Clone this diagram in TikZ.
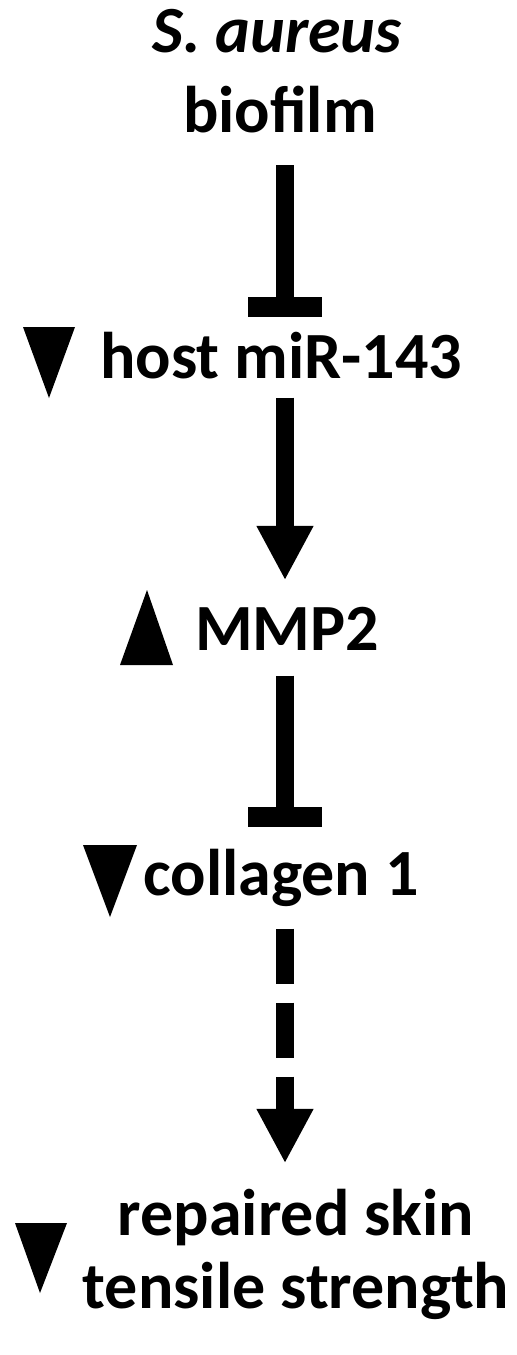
\documentclass[tikz,border=0pt]{standalone}
\usepackage{fontspec}
\setmainfont{Carlito}
\usetikzlibrary{arrows.meta}

\tikzset{every picture/.style={line width=0.75pt}}
\tikzset{
  lbl/.style={font=\fontsize{49.5}{58}\selectfont\bfseries, inner sep=0pt, anchor=base, text height=31pt, text depth=0pt},
  link/.style={line width=13.5pt},
  actv/.style={link, -{Triangle[length=40pt, width=43pt, line width=0pt]}},
  inhb/.style={link, -{Rectangle[length=15pt, width=55pt, line width=0pt]}},
}

\begin{document}
\begin{tikzpicture}[x=0.75pt,y=0.75pt,yscale=-1,xscale=1]
	\useasboundingbox (0,0) rectangle (517,1355);
	\coordinate (axis) at (285,0);

	% Text Node
	\node[lbl] (bioA) at (277,53) {\itshape S. aureus};
	% Text Node
	\node[lbl] (bioB) at (280,133) {biofilm};
	% Text Node
	\node[lbl] (host) at (281,378) {host miR-143};
	% Text Node
	\node[lbl] (mmp) at (287,650) {MMP2};
	% Text Node
	\node[lbl] (col) at (281,895) {collagen 1};
	% Text Node
	\node[lbl] (skinA) at (296,1235) {repaired skin};
	% Text Node
	\node[lbl] (skinB) at (296,1308) {tensile strength};

	%Straight Lines
	\draw[inhb, shorten <=24pt, shorten >=14.25pt] (bioB.south -| axis) -- (host.north -| axis);
	%Straight Lines
	\draw[actv, shorten <=14.25pt, shorten >=21.75pt] (host.south -| axis) -- (mmp.north -| axis);
	%Straight Lines
	\draw[inhb, shorten <=18.75pt, shorten >=19.5pt] (mmp.south -| axis) -- (col.north -| axis);
	%Straight Lines
	\draw[actv, dash pattern=on 41.25pt off 14.25pt, shorten <=24.75pt, shorten >=23.25pt] (col.south -| axis) -- (skinA.north -| axis);

	%Shape: Triangle
	\fill (23,327) -- (75,327) -- (49,398) -- cycle;
	%Shape: Triangle
	\fill (120,665) -- (173,665) -- (147,590) -- cycle;
	%Shape: Triangle
	\fill (83,845) -- (137,845) -- (110,917) -- cycle;
	%Shape: Triangle
	\fill (15,1223) -- (67,1223) -- (40,1293) -- cycle;
\end{tikzpicture}
\end{document}
